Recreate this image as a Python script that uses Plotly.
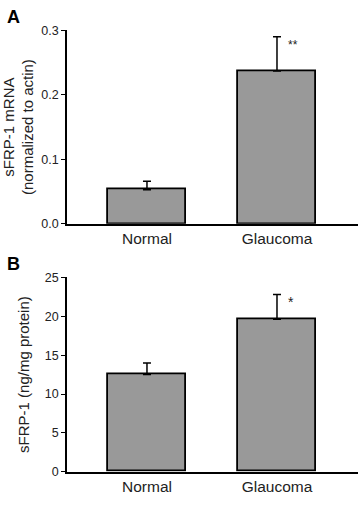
import plotly.graph_objects as go

categories = ["Normal", "Glaucoma"]
mrna_mean = [0.053, 0.237]
mrna_err = [0.013, 0.053]
mrna_sig = ["", "**"]
protein_mean = [12.5, 19.6]
protein_err = [1.5, 3.2]
protein_sig = ["", "*"]

W, H = 362, 508
FONT = "Liberation Sans, Arial, sans-serif"
TXT = "#222222"
BAR = "#999999"

fig = go.Figure()
xpos = [0, 1]

fig.add_trace(go.Bar(
    x=xpos, y=mrna_mean, width=0.6, xaxis="x", yaxis="y",
    marker=dict(color=BAR, line=dict(color="black", width=1.8)),
    error_y=dict(type="data", symmetric=False, array=mrna_err,
                 arrayminus=[0, 0], color="black", thickness=1.5, width=4),
    showlegend=False))
fig.add_trace(go.Bar(
    x=xpos, y=protein_mean, width=0.6, xaxis="x2", yaxis="y2",
    marker=dict(color=BAR, line=dict(color="black", width=1.8)),
    error_y=dict(type="data", symmetric=False, array=protein_err,
                 arrayminus=[0, 0], color="black", thickness=1.5, width=4),
    showlegend=False))

def px_x(p):
    return p / W

def px_y(p):
    return 1 - p / H

xr = [-0.615, 1.623]
common_x = dict(range=xr, tickmode="array", tickvals=xpos, ticktext=categories,
                showline=True, linecolor="black", linewidth=1.5, ticks="",
                showgrid=False, zeroline=False,
                tickfont=dict(family=FONT, size=15.5, color=TXT))
common_y = dict(showline=True, linecolor="black", linewidth=1.5, ticks="outside",
                ticklen=4, tickcolor="black", tickwidth=1, showgrid=False,
                zeroline=False, tickfont=dict(family=FONT, size=12.5, color=TXT))

fig.update_layout(
    width=W, height=H, margin=dict(l=0, r=0, t=0, b=0),
    paper_bgcolor="white", plot_bgcolor="white", bargap=0,
    xaxis=dict(domain=[px_x(67), px_x(358)], anchor="y", **common_x),
    yaxis=dict(domain=[px_y(223), px_y(24)], anchor="x", range=[0, 0.3],
               tickvals=[0, 0.1, 0.2, 0.3], tickformat=".1f",
               title=dict(text="sFRP-1 mRNA<br>(normalized to actin)",
                          font=dict(family=FONT, size=15, color=TXT), standoff=4),
               **common_y),
    xaxis2=dict(domain=[px_x(67), px_x(358)], anchor="y2", **common_x),
    yaxis2=dict(domain=[px_y(478), px_y(278)], anchor="x2", range=[0, 25],
                tickvals=[0, 5, 10, 15, 20, 25],
                title=dict(text="sFRP-1 (ng/mg protein)",
                           font=dict(family=FONT, size=15, color=TXT), standoff=12),
                **common_y),
)

ann = []
for i, s in enumerate(mrna_sig):
    if s:
        ann.append(dict(x=xpos[i], y=mrna_mean[i] + mrna_err[i], xref="x", yref="y",
                        text=s, showarrow=False, xshift=16, yshift=-8,
                        font=dict(family=FONT, size=12, color=TXT)))
for i, s in enumerate(protein_sig):
    if s:
        ann.append(dict(x=xpos[i], y=protein_mean[i] + protein_err[i], xref="x2", yref="y2",
                        text=s, showarrow=False, xshift=14, yshift=-8,
                        font=dict(family=FONT, size=14, color=TXT)))
ann.append(dict(x=px_x(5), y=px_y(-2), xref="paper", yref="paper", text="<b>A</b>",
                showarrow=False, xanchor="left", yanchor="top",
                font=dict(family=FONT, size=18, color="black")))
ann.append(dict(x=px_x(5), y=px_y(252), xref="paper", yref="paper", text="<b>B</b>",
                showarrow=False, xanchor="left", yanchor="top",
                font=dict(family=FONT, size=18, color="black")))
fig.update_layout(annotations=ann)

fig.write_html("out.html")
